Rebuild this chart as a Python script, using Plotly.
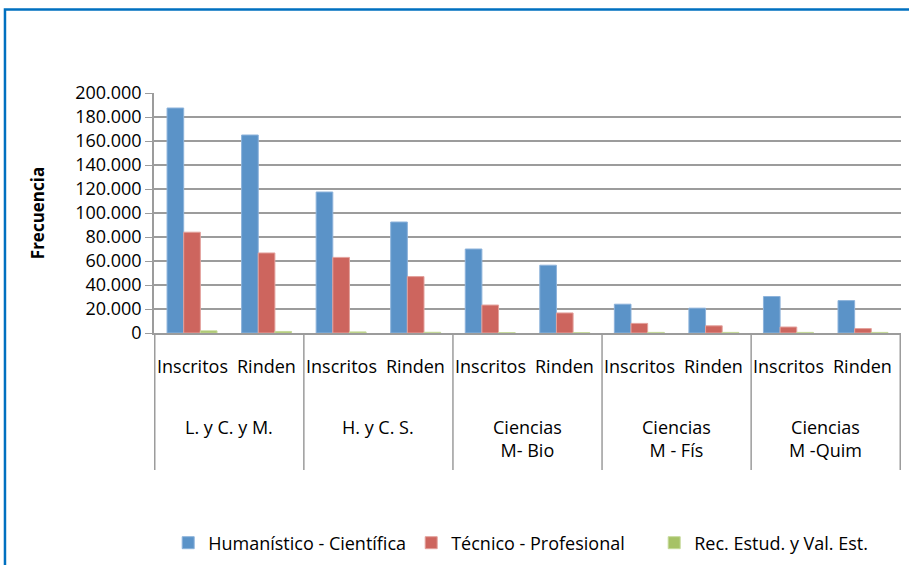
import plotly.graph_objects as go

group_labels = ["L. y C. y M.", "H. y C. S.", "Ciencias<br>M- Bio", "Ciencias<br>M - Fís", "Ciencias<br>M -Quim"]
sub_labels = ["Inscritos", "Rinden"]

humanistico = [187500, 165000, 117500, 92500, 70000, 56500, 24000, 20700, 30400, 27000]
tecnico = [84000, 66700, 63000, 47000, 23300, 16700, 8000, 6000, 5000, 3700]
rec_estud = [1800, 1300, 900, 600, 300, 300, 500, 500, 500, 500]

series_names = ["Humanístico - Científica", "Técnico - Profesional", "Rec. Estud. y Val. Est."]
colors = ["#5B93C8", "#CD655E", "#A6C266"]
edges = ["#8DB3DB", "#E3A19C", "#C6DA9A"]

# unique category keys, one per (group, sub) pair
cat_keys = [f"{g}|{s}" for g in group_labels for s in sub_labels]
cat_text = [s for g in group_labels for s in sub_labels]

FONT = "Open Sans"
GRID = "#9C9C9C"
FS = 18

fig = go.Figure()
for name, vals, c, e in zip(series_names, [humanistico, tecnico, rec_estud], colors, edges):
    fig.add_trace(go.Bar(x=cat_keys, y=vals, name=name,
                         marker=dict(color=c, line=dict(color=e, width=1))))

fig.update_layout(
    width=909, height=565,
    paper_bgcolor="white", plot_bgcolor="white",
    margin=dict(l=154, r=8, t=93, b=232, autoexpand=False),
    barmode="group", bargap=0.33, bargroupgap=0,
    separators=",.",
    font=dict(family=FONT, size=FS, color="black"),
    showlegend=True,
    legend=dict(orientation="h", x=0.019, xanchor="left", y=-0.875, yanchor="middle",
                font=dict(size=FS), traceorder="normal", itemwidth=30,
                entrywidth=198, entrywidthmode="pixels"),
)
fig.update_yaxes(
    range=[0, 200000], dtick=20000, tickformat=",.0f",
    showgrid=True, gridcolor=GRID, gridwidth=1.5,
    showline=True, linecolor=GRID, linewidth=1.5,
    ticks="outside", ticklen=7, tickcolor=GRID,
    tickfont=dict(size=FS),
    title=dict(text="<b>Frecuencia</b>", font=dict(size=17), standoff=26),
    zeroline=False, automargin=False,
)
fig.update_xaxes(
    type="category", categoryorder="array", categoryarray=cat_keys,
    showline=True, linecolor=GRID, linewidth=1.5,
    showticklabels=False, ticks="", automargin=False,
)

# sub-category labels (row 1)
for key, txt in zip(cat_keys, cat_text):
    fig.add_annotation(x=key, xref="x", y=-0.1375, yref="paper", text=txt,
                       showarrow=False, yanchor="middle", font=dict(size=FS))

# group labels (row 2) and dividers
n_sub = len(sub_labels)
for gi, g in enumerate(group_labels):
    center = gi * n_sub + (n_sub - 1) / 2
    fig.add_annotation(x=center, xref="x", y=-0.335, yref="paper", text=g,
                       showarrow=False, yanchor="top", font=dict(size=FS))
for gi in range(len(group_labels) + 1):
    xb = gi * n_sub - 0.5
    fig.add_shape(type="line", xref="x", yref="paper", x0=xb, x1=xb, y0=0, y1=-0.571,
                  line=dict(color=GRID, width=1.5))

fig.add_shape(type="rect", xref="paper", yref="paper",
              x0=-0.1995, x1=1.05, y0=-1.2, y1=1.348,
              line=dict(color="#0070C0", width=2.5), fillcolor="rgba(0,0,0,0)", layer="below")

fig.write_html("out.html", config={"displayModeBar": False},
               post_script="document.body.style.margin='0';document.body.style.padding='0';")
